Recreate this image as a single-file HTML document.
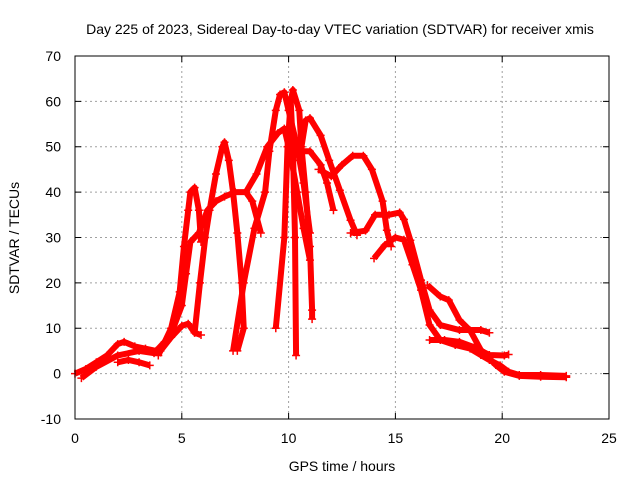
<!DOCTYPE html>
<html><head><meta charset="utf-8"><style>
html,body{margin:0;padding:0;background:#fff;}
svg text{font-family:"Liberation Sans",sans-serif;font-size:14px;fill:#000;}
</style></head><body>
<svg id="chart" width="640" height="480" xmlns="http://www.w3.org/2000/svg">
<text x="340" y="34" text-anchor="middle">Day 225 of 2023, Sidereal Day-to-day VTEC variation (SDTVAR) for receiver xmis</text>
<text x="342" y="471" text-anchor="middle">GPS time / hours</text>
<text transform="translate(19,238) rotate(-90)" text-anchor="middle">SDTVAR / TECUs</text>
<g id="grid"></g>
<g id="ticks"></g>
<g id="series"></g>
<rect x="75" y="56" width="534" height="363" fill="none" stroke="#000" stroke-width="1"/>
</svg>
<script>
const xTicks=[0,5,10,15,20,25];
const yTicks=[-10,0,10,20,30,40,50,60,70];
const track1=[[0,0],[0.5,1],[1,2.5],[1.5,4],[2,6.5],[2.3,7],[2.8,6],[3.3,5.5],[3.8,5],[4.2,7],[4.6,10],[5,15],[5.2,22],[5.4,29],[5.8,31],[6.2,36],[6.6,38],[7,39],[7.5,40],[8,40],[8.3,38],[8.7,31]];
const track2=[[3.9,4],[4.5,10],[4.9,18],[5.1,28],[5.3,36],[5.4,40],[5.6,41],[5.8,36],[5.9,29]];
const track3=[[0.3,-1],[1,1.5],[2,4],[3,5],[3.7,4.5],[4,5],[4.5,8],[5,10.5],[5.3,11],[5.6,9],[5.9,8.5]];
const track4=[[5.6,9],[5.85,20],[6.1,30],[6.3,36],[6.6,44],[6.9,50],[7,51],[7.2,47],[7.4,40],[7.6,31],[7.8,20],[7.9,10],[7.6,5]];
const track5=[[7.4,5],[7.9,20],[8.4,32],[8.9,40],[9.1,49],[9.4,58],[9.6,61.5],[9.8,62],[10,58],[10.4,50],[10.7,42],[11,31]];
const track6=[[9.4,10],[9.8,30],[9.95,50],[10.1,60],[10.2,62.5],[10.5,58],[10.6,50],[10.8,40],[11,28],[11.1,14],[11.1,12]];
const track7=[[10.1,60],[10.2,50],[10.3,30],[10.35,4]];
const track8=[[8,40],[8.5,44],[9,50],[9.5,53],[9.8,54],[10.1,48],[10.4,40],[10.7,32],[11,25]];
const track9=[[10.5,47],[10.8,55.8],[11,56.3],[11.5,52.5],[11.9,47],[12.4,40.4],[12.9,33.8],[13.2,30.5]];
const track10=[[10.5,49],[11,49],[11.5,46],[11.8,42],[12.1,36]];
const track11=[[11.4,45],[12,43.5],[12.5,46],[13,48],[13.5,48],[13.9,45],[14.4,38],[14.6,31.6],[14.8,28]];
const track12=[[12.9,31],[13.6,31.5],[14.05,35],[14.7,35],[15.2,35.5],[15.4,34],[15.7,29.4],[16.2,20.6],[16.6,14],[17.1,10.7],[18,9.6],[19,9.6],[19.4,9]];
const track13=[[14,25.4],[14.5,28.3],[15,30],[15.4,29.5],[15.8,24],[16.2,18.4],[16.6,10.7],[17.1,7.4],[17.8,6.3],[18.5,5.5],[19,4.1],[19.4,3],[19.9,1.8],[20.3,0.4],[20.8,-0.3],[21.8,-0.3],[23,-0.5]];
const track14=[[16.5,19.5],[17.1,17],[17.5,16.2],[18,11.8],[18.5,9.5],[19,5.2],[19.7,1.9],[20.1,0.4],[20.8,-0.5],[21.8,-0.7],[23,-0.8]];
const track15=[[16.6,7.4],[17.3,7.4],[18,7],[18.7,5.8],[19.4,4.1],[20.1,4],[20.3,4.2]];
const track16=[[2,2.5],[2.5,3],[3,2.5],[3.5,1.8]];
const allTracks=[track1,track2,track3,track4,track5,track6,track7,track8,track9,track10,track11,track12,track13,track14,track15,track16];
const NS="http://www.w3.org/2000/svg";
function sx(t){return 75+t*(534/25);}
function sy(v){return 373.6-v*(363/80);}
const grid=document.getElementById('grid'),ticks=document.getElementById('ticks'),series=document.getElementById('series');
xTicks.forEach(t=>{
 const x=sx(t);
 if(t>0&&t<25){const l=document.createElementNS(NS,'line');
 
 
 l.setAttribute('x1',x);l.setAttribute('x2',x);l.setAttribute('y1',56);l.setAttribute('y2',419);
 l.setAttribute('stroke','#a0a0a0');l.setAttribute('stroke-dasharray','2,3');grid.appendChild(l);}
 const tk=document.createElementNS(NS,'path');
 
 
 tk.setAttribute('d',`M${x},419v-6M${x},56v6`);tk.setAttribute('stroke','#000');ticks.appendChild(tk);
 const tx=document.createElementNS(NS,'text');
 
 
 tx.setAttribute('x',x);tx.setAttribute('y',443);tx.setAttribute('text-anchor','middle');tx.textContent=t;ticks.appendChild(tx);
});
yTicks.forEach(v=>{
 const y=sy(v);
 if(v>-10&&v<70){const l=document.createElementNS(NS,'line');
 
 
 l.setAttribute('x1',75);l.setAttribute('x2',609);l.setAttribute('y1',y);l.setAttribute('y2',y);
 l.setAttribute('stroke','#a0a0a0');l.setAttribute('stroke-dasharray','2,3');grid.appendChild(l);}
 const tk=document.createElementNS(NS,'path');
 
 
 tk.setAttribute('d',`M75,${y}h6M609,${y}h-6`);tk.setAttribute('stroke','#000');ticks.appendChild(tk);
 const tx=document.createElementNS(NS,'text');
 
 
 tx.setAttribute('x',61);tx.setAttribute('y',y+5);tx.setAttribute('text-anchor','end');tx.textContent=v;ticks.appendChild(tx);
});
allTracks.forEach((tr,i)=>{
 const pl=document.createElementNS(NS,'polyline');
 
 
 pl.setAttribute('points',tr.map(p=>sx(p[0])+','+sy(p[1])).join(' '));
 pl.setAttribute('fill','none');pl.setAttribute('stroke','#ff0000');pl.setAttribute('stroke-width','6');pl.setAttribute('stroke-linejoin','round');
 series.appendChild(pl);
 let d='';
 tr.forEach(p=>{const x=sx(p[0]),y=sy(p[1]);d+=`M${x-4},${y}h8M${x},${y-4}v8`;});
 const mk=document.createElementNS(NS,'path');
 
 
 mk.setAttribute('d',d);mk.setAttribute('stroke','#ff0000');mk.setAttribute('stroke-width','1.5');
 series.appendChild(mk);
});
</script>
</body></html>
